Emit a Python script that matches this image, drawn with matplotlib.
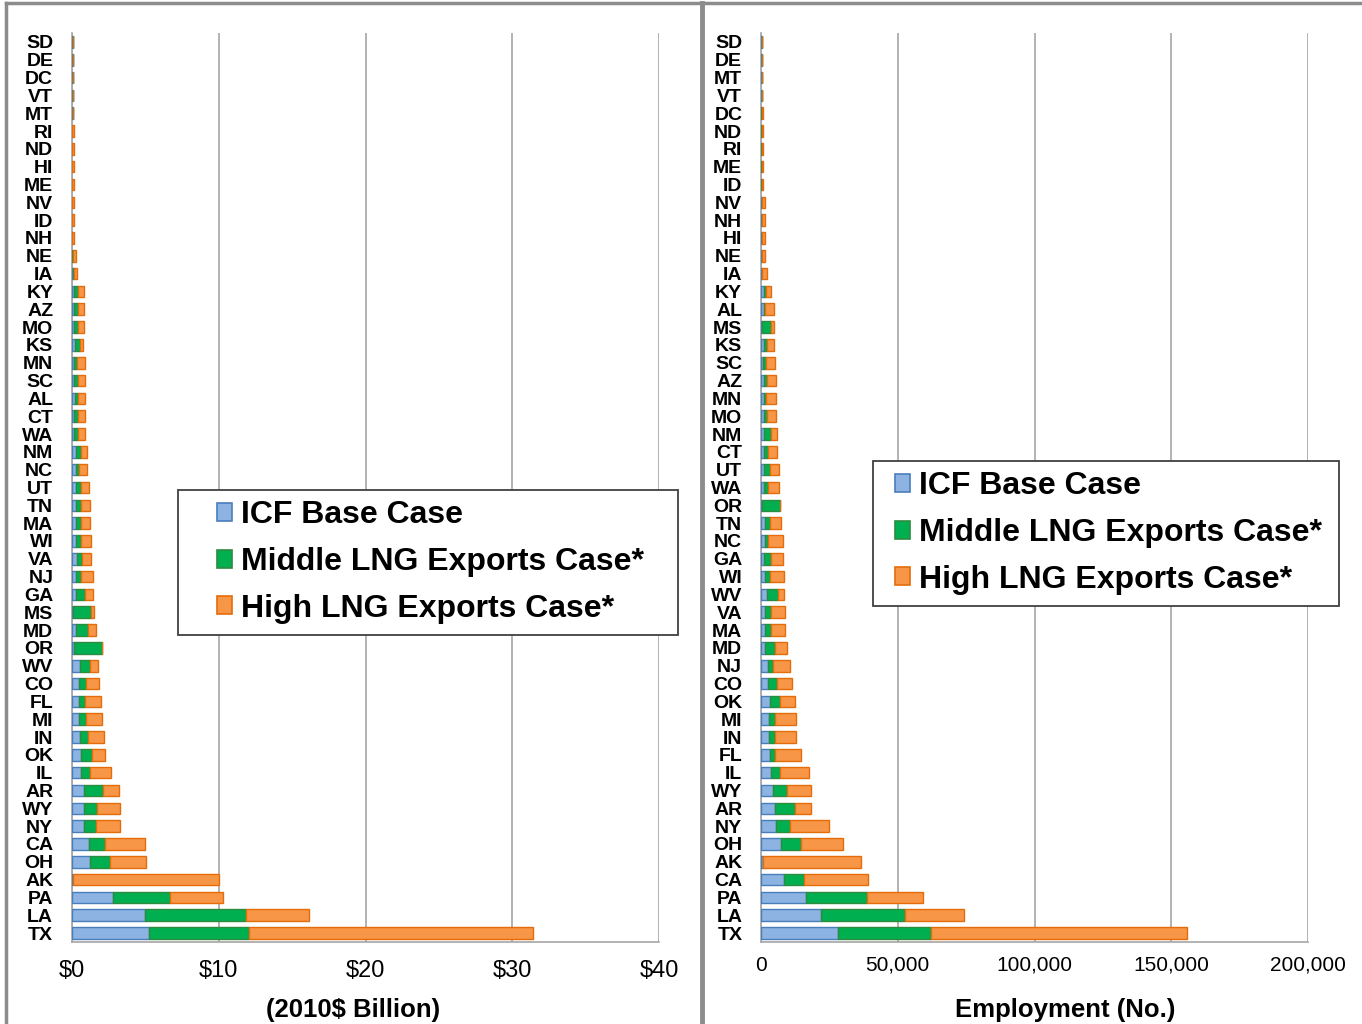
import numpy as np
import matplotlib
matplotlib.use('Agg')
import matplotlib.pyplot as plt
from matplotlib.patches import Patch, Rectangle
from matplotlib.lines import Line2D
from matplotlib.ticker import FuncFormatter

plt.rcParams['font.family'] = ['Liberation Sans', 'DejaVu Sans']

# left panel: value added (2010$ billion), listed top to bottom
gsp_states = ['SD', 'DE', 'DC', 'VT', 'MT', 'RI', 'ND', 'HI', 'ME', 'NV', 'ID', 'NH', 'NE',
              'IA', 'KY', 'AZ', 'MO', 'KS', 'MN', 'SC', 'AL', 'CT', 'WA', 'NM', 'NC', 'UT',
              'TN', 'MA', 'WI', 'VA', 'NJ', 'GA', 'MS', 'MD', 'OR', 'WV', 'CO', 'FL', 'MI',
              'IN', 'OK', 'IL', 'AR', 'WY', 'NY', 'CA', 'OH', 'AK', 'PA', 'LA', 'TX']
gsp_base = [.05, .05, .05, .05, .05, .02, .02, .02, .02, .02, .02, .02, .03,
            .07, .11, .11, .11, .20, .11, .11, .20, .11, .11, .25, .25, .25,
            .25, .25, .25, .34, .30, .25, .05, .25, .13, .52, .46, .46, .46,
            .52, .61, .61, .85, .79, .79, 1.13, 1.22, .10, 2.80, 5.00, 5.24]
gsp_mid = [0, 0, 0, 0, 0, .01, .01, .01, .01, .01, .01, .01, .01,
           .09, .30, .32, .32, .32, .23, .30, .21, .30, .30, .34, .25, .36,
           .36, .36, .36, .32, .31, .61, 1.27, .86, 1.89, .73, .51, .42, .51,
           .55, .73, .64, 1.28, .88, .82, 1.15, 1.40, 0.0, 3.87, 6.85, 6.84]
gsp_high = [0, 0, 0, 0, 0, .13, .12, .12, .12, .12, .12, .12, .22,
            .18, .39, .37, .37, .25, .52, .45, .45, .45, .45, .46, .55, .55,
            .59, .59, .69, .64, .80, .55, .18, .55, 0, .52, .89, 1.07, 1.07,
            1.12, .94, 1.40, 1.04, 1.59, 1.65, 2.71, 2.43, 9.95, 3.65, 4.30, 19.30]

# right panel: employment (no.), listed top to bottom
emp_states = ['SD', 'DE', 'MT', 'VT', 'DC', 'ND', 'RI', 'ME', 'ID', 'NV', 'NH', 'HI', 'NE',
              'IA', 'KY', 'AL', 'MS', 'KS', 'SC', 'AZ', 'MN', 'MO', 'NM', 'CT', 'UT', 'WA',
              'OR', 'TN', 'NC', 'GA', 'WI', 'WV', 'VA', 'MA', 'MD', 'NJ', 'CO', 'OK', 'MI',
              'IN', 'FL', 'IL', 'WY', 'AR', 'NY', 'OH', 'AK', 'CA', 'PA', 'LA', 'TX']
emp_base = [500, 500, 500, 500, 150, 150, 150, 150, 150, 200, 200, 200, 200,
            200, 1000, 1000, 200, 1000, 600, 1000, 1000, 1000, 1000, 1000, 1000, 1000,
            400, 1600, 1600, 1200, 1600, 2200, 1600, 1600, 1400, 2500, 2500, 3200, 2800,
            2800, 3200, 3700, 4300, 5100, 5600, 7400, 700, 8500, 16400, 21800, 28100]
emp_mid = [0, 0, 0, 0, 50, 50, 50, 50, 50, 50, 50, 50, 50,
           200, 800, 300, 3300, 1100, 1100, 1100, 700, 1100, 2700, 1600, 2200, 1600,
           6400, 1600, 1000, 2500, 1600, 4100, 2100, 2100, 3800, 2000, 3200, 3900, 2400,
           2400, 2000, 3400, 5100, 7300, 4900, 7400, 0, 7100, 22400, 30900, 34000]
emp_high = [0, 0, 0, 0, 650, 700, 700, 700, 700, 1050, 1050, 1050, 1050,
            1900, 1900, 3300, 1100, 2500, 3400, 3400, 3800, 3400, 2300, 3400, 3300, 3900,
            0, 4200, 5300, 4200, 5200, 2100, 5100, 5100, 4400, 6000, 5700, 5300, 7600,
            7600, 9500, 10500, 8700, 6000, 14500, 15300, 36000, 23500, 20300, 21600, 93500]

series_names = ['ICF Base Case', 'Middle LNG Exports Case*', 'High LNG Exports Case*']
fills = ['#8DB3E2', '#00B050', '#F79646']
edges = ['#4A7EBB', '#2E8B3E', '#E46C0A']

W, H = 1362, 1024
fig = plt.figure(figsize=(W / 100, H / 100), dpi=100)

def draw_panel(ax, states, base, mid, high, xmax, step, fmt, tick_size, tick_pad):
    y = np.arange(len(states))
    b = np.array(base)
    m = np.array(mid)
    h = np.array(high)
    left = np.zeros(len(states))
    for vals, fc, ec in zip([b, m, h], fills, edges):
        ax.barh(y, vals, left=left, height=0.65, color=fc, edgecolor=ec,
                linewidth=1.0, zorder=3)
        left = left + vals
    ax.set_ylim(len(states) - 0.5, -0.5)
    ax.set_yticks(y)
    ax.set_yticklabels(states, fontsize=14, fontweight='bold')
    ax.set_xlim(0, xmax)
    ax.set_xticks(np.arange(0, xmax + step, step))
    ax.xaxis.set_major_formatter(FuncFormatter(fmt))
    ax.tick_params(axis='x', length=0, labelsize=tick_size, pad=tick_pad)
    ax.tick_params(axis='y', length=0, pad=13.5)
    ax.grid(axis='x', color='#A6A6A6', linewidth=1.2, zorder=0)
    for s in ['top', 'right']:
        ax.spines[s].set_visible(False)
    for s in ['left', 'bottom']:
        ax.spines[s].set_color('#A6A6A6')
        ax.spines[s].set_linewidth(1.2)

ax1 = fig.add_axes([72 / W, 82 / H, 587 / W, 909 / H])
draw_panel(ax1, gsp_states, gsp_base, gsp_mid, gsp_high, 40, 10,
           lambda v, p: '$%d' % v, 17, 13)
ax2 = fig.add_axes([761 / W, 82 / H, 547 / W, 909 / H])
draw_panel(ax2, emp_states, emp_base, emp_mid, emp_high, 200000, 50000,
           lambda v, p: '{:,.0f}'.format(v), 15, 10)

fig.text(353 / W, 1 - 1010 / H, '(2010$ Billion)', ha='center', va='center',
         fontsize=18.5, fontweight='bold')
fig.text(1065 / W, 1 - 1010 / H, 'Employment (No.)', ha='center', va='center',
         fontsize=18.5, fontweight='bold')

# legend boxes (pixel positions of frame and marker column, middle row centre)
handles = [Patch(facecolor=fc, edgecolor=ec, linewidth=1.2) for fc, ec in zip(fills, edges)]
legend_boxes = [(ax1, (178, 490, 678, 635), 217, 562), (ax2, (873, 461, 1339, 606), 895, 533)]
for ax, box, mx, my in legend_boxes:
    x0, y0, x1, y1 = box
    ax.add_patch(Rectangle((x0 / W, 1 - y1 / H), (x1 - x0) / W, (y1 - y0) / H,
                           transform=fig.transFigure, facecolor='white',
                           edgecolor='#404040', linewidth=1.3, zorder=9, clip_on=False))
    leg = ax.legend(handles, series_names, loc='center left', bbox_to_anchor=(mx / W, 1 - my / H),
                    bbox_transform=fig.transFigure, frameon=False,
                    prop={'size': 23, 'weight': 'bold'}, handlelength=0.48,
                    handleheight=0.48, handletextpad=0.28, labelspacing=0.52,
                    borderpad=0, borderaxespad=0)
    leg.set_zorder(10)

# chart borders
gray = '#8C8C8C'
fig.add_artist(Line2D([6 / W, 6 / W], [0, 1 - 3 / H], color=gray, lw=2.5))
fig.add_artist(Line2D([6 / W, 1], [1 - 3 / H, 1 - 3 / H], color=gray, lw=2.5))
fig.add_artist(Line2D([702 / W, 702 / W], [0, 1 - 3 / H], color=gray, lw=3.5))

fig.savefig('out.png', dpi=100)
